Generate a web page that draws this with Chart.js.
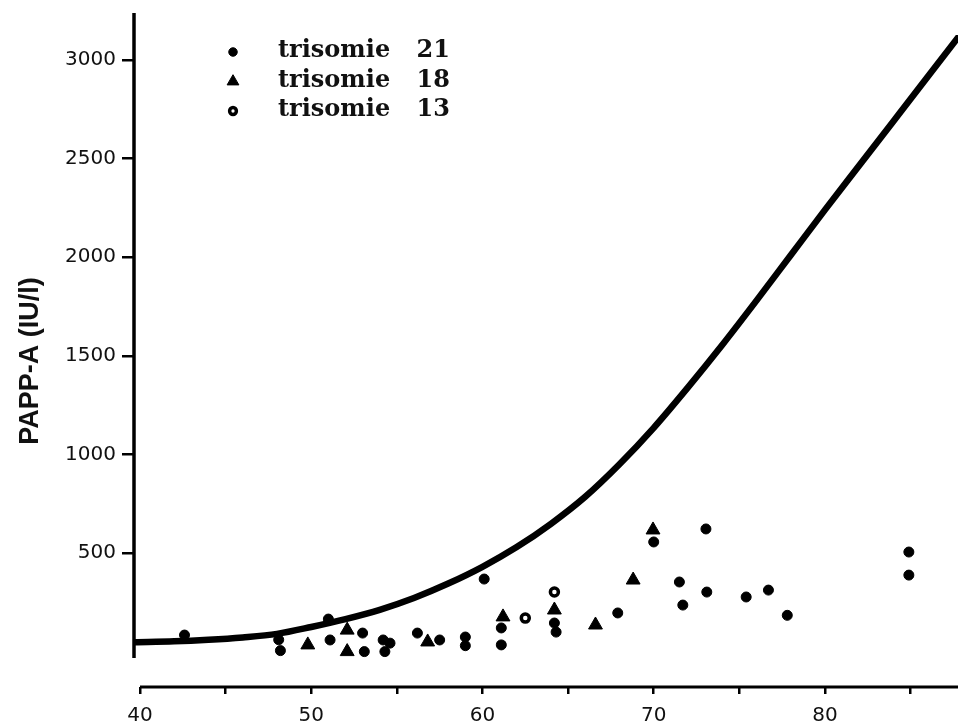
<!DOCTYPE html>
<html>
<head>
<meta charset="utf-8">
<script src="https://cdn.jsdelivr.net/npm/chart.js@4/dist/chart.umd.min.js"></script>
<style>
  html, body { margin: 0; padding: 0; background: #ffffff; }
  #wrap { width: 958px; height: 726px; position: relative; }
</style>
</head>
<body>
<div id="wrap"><canvas id="chart" width="958" height="726"></canvas></div>
<script>
// Reference curve (PAPP-A, IU/l)
const curveX = [39.7, 42, 44, 46, 48, 50, 52, 54, 56, 58, 60, 62, 64, 66, 68, 70, 72, 74, 76, 78, 80, 82, 84, 86, 88];
const curveY = [48, 52, 60, 72, 90, 125, 165, 212, 272, 345, 430, 530, 648, 785, 950, 1135, 1340, 1555, 1780, 2010, 2240, 2465, 2690, 2915, 3140];

// Trisomy 21 cases
const t21X = [42.6, 48.1, 48.2, 51.0, 51.1, 53.0, 53.1, 54.2, 54.6, 54.3, 56.2, 57.5, 59.0, 59.0, 60.1, 61.1, 61.1, 64.2, 64.3, 67.9, 70.0, 73.05, 71.5, 71.7, 73.1, 75.4, 76.7, 77.8, 84.9, 84.9];
const t21Y = [84, 60, 5, 165, 59, 94, 0, 59, 43, 0, 94, 59, 74, 30, 368, 120, 34, 145, 99, 196, 556, 622, 353, 236, 302, 277, 312, 184, 505, 388];

// Trisomy 18 cases
const t18X = [49.8, 52.1, 52.1, 56.8, 61.2, 64.2, 66.6, 68.8, 69.96];
const t18Y = [34, 109, 0, 49, 176, 211, 135, 363, 617];

// Trisomy 13 cases
const t13X = [62.5, 64.2];
const t13Y = [170, 302];

// Axis ticks and labels
const xTickValues = [40, 45, 50, 55, 60, 65, 70, 75, 80, 85];
const xTickLabels = ['40', '', '50', '', '60', '', '70', '', '80', ''];
const yTickValues = [500, 1000, 1500, 2000, 2500, 3000];
const yTickLabels = ['500', '1000', '1500', '2000', '2500', '3000'];

const seriesNames = ['trisomie 21', 'trisomie 18', 'trisomie 13'];
const yAxisTitle = 'PAPP-A (IU/l)';

const toPoints = (xs, ys) => xs.map((x, i) => ({ x: x, y: ys[i] }));

// Axis extents
const X_MIN = 39.65, X_MAX = 87.77;
const Y_MIN = -179.5, Y_MAX = 3127;
const Y_LINE_TOP = 3238, Y_LINE_BOTTOM = -32;

// Draws the two separate axis lines (the vertical one stops short of the horizontal one)
const axisLines = {
  id: 'axisLines',
  beforeDatasetsDraw(chart) {
    const { ctx, chartArea, scales } = chart;
    const x = scales.x, y = scales.y;
    ctx.save();
    ctx.strokeStyle = '#000';
    ctx.lineCap = 'butt';
    ctx.lineWidth = 3.5;
    ctx.beginPath();
    ctx.moveTo(chartArea.left, y.getPixelForValue(Y_LINE_TOP));
    ctx.lineTo(chartArea.left, y.getPixelForValue(Y_LINE_BOTTOM));
    ctx.stroke();
    ctx.lineWidth = 3;
    ctx.beginPath();
    ctx.moveTo(x.getPixelForValue(xTickValues[0]), chartArea.bottom);
    ctx.lineTo(chartArea.right, chartArea.bottom);
    ctx.stroke();
    ctx.restore();
  }
};

// Key in the upper left of the plot
const keyBox = {
  id: 'keyBox',
  afterDraw(chart) {
    const { ctx, chartArea } = chart;
    const markX = chartArea.left + 99;
    const textX = chartArea.left + 144;
    const base0 = 57, step = 29.5;
    ctx.save();
    ctx.font = 'bold 24px "DejaVu Serif"';
    ctx.textBaseline = 'alphabetic';
    ctx.textAlign = 'left';
    try { ctx.wordSpacing = '18px'; } catch (e) {}
    for (let i = 0; i < 3; i++) {
      const ds = chart.data.datasets[i];
      const base = base0 + i * step;
      ctx.fillStyle = ds.backgroundColor;
      ctx.strokeStyle = ds.borderColor;
      ctx.lineWidth = ds.pointBorderWidth;
      Chart.helpers.drawPoint(ctx, {
        pointStyle: ds.pointStyle,
        radius: ds.pointRadius * 0.85,
        rotation: 0,
        borderWidth: ds.pointBorderWidth
      }, markX, base - 5);
      ctx.fillStyle = '#111';
      ctx.fillText(ds.label, textX, base);
    }
    ctx.restore();
  }
};

new Chart(document.getElementById('chart'), {
  type: 'scatter',
  data: {
    datasets: [
      {
        label: seriesNames[0],
        data: toPoints(t21X, t21Y),
        pointStyle: 'circle',
        pointRadius: 5,
        pointBorderWidth: 1,
        backgroundColor: '#000',
        borderColor: '#000'
      },
      {
        label: seriesNames[1],
        data: toPoints(t18X, t18Y),
        pointStyle: 'triangle',
        pointRadius: 8,
        pointBorderWidth: 1,
        backgroundColor: '#000',
        borderColor: '#000'
      },
      {
        label: seriesNames[2],
        data: toPoints(t13X, t13Y),
        pointStyle: 'circle',
        pointRadius: 4,
        pointBorderWidth: 3.5,
        backgroundColor: '#fff',
        borderColor: '#000'
      },
      {
        label: 'curve',
        data: toPoints(curveX, curveY),
        showLine: true,
        pointRadius: 0,
        borderColor: '#000',
        borderWidth: 6.5,
        cubicInterpolationMode: 'monotone',
        fill: false
      }
    ]
  },
  options: {
    responsive: false,
    animation: false,
    devicePixelRatio: 1,
    layout: { autoPadding: false, padding: { top: 35, right: 0, bottom: 0, left: 0 } },
    plugins: { legend: { display: false }, tooltip: { enabled: false } },
    scales: {
      x: {
        type: 'linear',
        min: X_MIN,
        max: X_MAX,
        afterBuildTicks: s => { s.ticks = xTickValues.map(v => ({ value: v })); },
        afterFit: s => { s.height = 39; s.paddingLeft = 0; s.paddingRight = 0; },
        border: { display: false },
        grid: { display: true, drawOnChartArea: false, drawTicks: true, tickLength: 7, tickWidth: 2.5, tickColor: '#000', color: '#000', lineWidth: 2.5 },
        ticks: {
          color: '#111',
          font: { family: 'DejaVu Sans', size: 20 },
          padding: 10,
          maxRotation: 0,
          autoSkip: false,
          callback: v => { const i = xTickValues.indexOf(v); return i >= 0 ? xTickLabels[i] : ''; }
        }
      },
      y: {
        type: 'linear',
        min: Y_MIN,
        max: Y_MAX,
        afterBuildTicks: s => { s.ticks = yTickValues.map(v => ({ value: v })); },
        afterFit: s => { s.width = 134; s.paddingTop = 0; s.paddingBottom = 0; },
        border: { display: false },
        grid: { display: true, drawOnChartArea: false, drawTicks: true, tickLength: 12, tickWidth: 2.5, tickColor: '#000', color: '#000', lineWidth: 2.5 },
        title: {
          display: true,
          text: yAxisTitle,
          color: '#111',
          font: { family: 'Liberation Sans', size: 27, weight: 'bold' },
          padding: { top: 14, bottom: 0 }
        },
        ticks: {
          color: '#111',
          font: { family: 'DejaVu Sans', size: 20 },
          padding: 6,
          autoSkip: false,
          callback: v => { const i = yTickValues.indexOf(v); return i >= 0 ? yTickLabels[i] : ''; }
        }
      }
    }
  },
  plugins: [axisLines, keyBox]
});
</script>
</body>
</html>
